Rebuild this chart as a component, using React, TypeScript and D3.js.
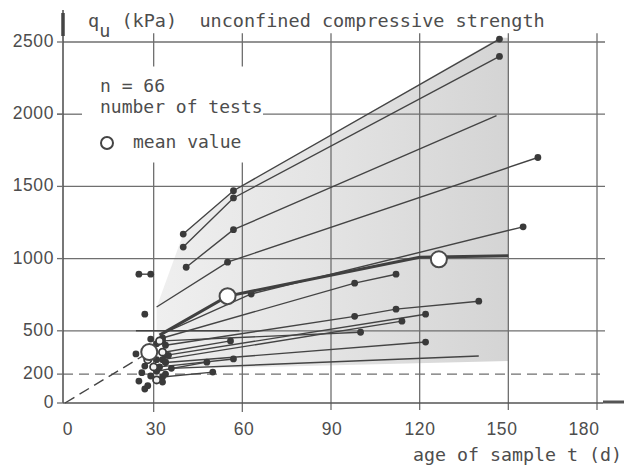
import React from "react";
import * as d3 from "d3";

const W = 626, H = 474;

const yTicks = [0, 200, 500, 1000, 1500, 2000, 2500];
const xTicks = [0, 30, 60, 90, 120, 150, 180];

// polylines [t (d), qu (kPa), dot?]
const upperSeries = [
  [[40, 1170, 1], [57, 1470, 1], [147, 2520, 1]],
  [[40, 1080, 1], [57, 1420, 1], [147, 2400, 1]],
  [[41, 940, 1], [57, 1200, 1], [146, 1990, 0]],
  [[31, 665, 0], [55, 975, 1], [160, 1700, 1]],
  [[33, 480, 0], [63, 755, 1], [155, 1220, 1]],
];

const lowerSeries = [
  [[33, 450, 1], [98, 830, 1], [112, 892, 1]],
  [[34, 400, 1], [98, 600, 1], [112, 650, 1], [140, 705, 1]],
  [[34, 330, 1], [122, 615, 1]],
  [[33, 300, 1], [114, 567, 1]],
  [[33, 430, 1], [100, 490, 1]],
  [[34, 280, 1], [122, 422, 1]],
  [[36, 240, 1], [140, 325, 0]],
  [[33, 350, 1], [56, 430, 1]],
  [[31, 220, 1], [48, 283, 1]],
  [[32, 250, 1], [57, 305, 1]],
  [[33, 180, 1], [50, 214, 1]],
  [[25, 892, 1], [29, 892, 1]],
  [[24, 500, 0], [59, 500, 0]],
];

const clusterDots = [
  [24, 340], [34, 283], [27, 256], [25, 152], [27, 97], [33, 145], [29, 187],
  [29, 443], [27, 615], [31, 300], [26, 210], [35, 330], [31, 410], [34, 200], [28, 120],
];
const clusterRings = [[33, 352], [30, 250], [28, 300], [31, 160], [32, 430]];

const meanLine = [[32, 470], [55, 740], [120, 1010], [150, 1020]];
const meanPoints = [[28.5, 353], [55, 740], [126.5, 995]];

const envelope = [
  [31, 500], [31, 665], [40, 1170], [57, 1470], [147, 2530], [150, 2530],
  [150, 290], [60, 245], [36, 240],
];

const trend = [[0, 0], [28.5, 353]];

const GRID = "#6f6f6f", INK = "#444", TXT = "#4d4d4d";
const MONO = "'DejaVu Sans Mono', monospace";
const SANS = "'Liberation Sans', Arial, sans-serif";

export default function App() {
  const x = d3.scaleLinear().domain([0, 180]).range([65, 597]);
  const y = d3.scaleLinear().domain([0, 2500]).range([403, 42]);
  const xl = d3.scaleLinear().domain([0, 120, 180]).range([68, 420, 584]);
  const line = d3.line<number[]>().x(d => x(d[0])).y(d => y(d[1]));
  const all = [...upperSeries, ...lowerSeries];
  const x0 = x(0) - 2, xr = 605;

  return (
    <div style={{ position: "fixed", left: 0, top: 0 }}>
      <svg width={W} height={H} style={{ display: "block", background: "#fff" }}>
        <defs>
          <linearGradient id="shade" x1="0" x2="1" y1="0" y2="0">
            <stop offset="0" stopColor="#efefef" />
            <stop offset="0.5" stopColor="#e3e3e3" />
            <stop offset="1" stopColor="#d4d4d4" />
          </linearGradient>
        </defs>
        <path d={line(envelope) + "Z"} fill="url(#shade)" />

        {/* horizontal grid */}
        {[500, 1000, 1500, 2500].map(v => (
          <line key={v} x1={x0} x2={xr} y1={y(v)} y2={y(v)} stroke={GRID} strokeWidth={1.3} />
        ))}
        <line x1={x(67)} x2={xr} y1={y(2000)} y2={y(2000)} stroke={GRID} strokeWidth={1.3} />
        <line x1={57} x2={82} y1={y(2000)} y2={y(2000)} stroke={GRID} strokeWidth={1.3} />
        <line x1={x0} x2={600} y1={y(200)} y2={y(200)} stroke={GRID} strokeWidth={1.2} strokeDasharray="10 6" />

        {/* vertical grid */}
        {[90, 120, 150, 180].map(t => (
          <line key={t} x1={x(t)} x2={x(t)} y1={y(2560)} y2={410} stroke={GRID} strokeWidth={1.3} />
        ))}
        {[30, 60].map(t => (
          <g key={t}>
            <line x1={x(t)} x2={x(t)} y1={y(2560)} y2={y(2330)} stroke={GRID} strokeWidth={1.3} />
            <line x1={x(t)} x2={x(t)} y1={y(1665)} y2={412} stroke={GRID} strokeWidth={1.3} />
          </g>
        ))}

        {/* axes */}
        <line x1={x0} x2={x0} y1={10} y2={y(0)} stroke="#555" strokeWidth={1.6} />
        <line x1={x0} x2={x0} y1={13} y2={36} stroke="#444" strokeWidth={3.5} />
        <line x1={x0} x2={603} y1={y(0)} y2={y(0)} stroke="#555" strokeWidth={1.5} />
        <line x1={603} x2={624} y1={y(0) - 1} y2={y(0) - 1} stroke="#555" strokeWidth={3} />
        {yTicks.map(v => (
          <line key={v} x1={57} x2={x0} y1={y(v)} y2={y(v)} stroke={GRID} strokeWidth={1.3} />
        ))}

        {/* trend to first mean */}
        <path d={line(trend) ?? ""} fill="none" stroke={INK} strokeWidth={1.4} strokeDasharray="11 6" />

        {/* individual tests */}
        {all.map((s, i) => (
          <path key={i} d={line(s) ?? ""} fill="none" stroke={INK} strokeWidth={1.4} />
        ))}
        {all.flatMap((s, i) => s.filter(p => p[2]).map((p, j) => (
          <circle key={i + "-" + j} cx={x(p[0])} cy={y(p[1])} r={3.4} fill="#3a3a3a" />
        )))}
        {clusterDots.map((p, i) => (
          <circle key={i} cx={x(p[0])} cy={y(p[1])} r={3.4} fill="#3a3a3a" />
        ))}
        {clusterRings.map((p, i) => (
          <circle key={i} cx={x(p[0])} cy={y(p[1])} r={3.6} fill="#f2f2f2" stroke="#3a3a3a" strokeWidth={1.8} />
        ))}

        {/* mean */}
        <path d={line(meanLine) ?? ""} fill="none" stroke="#404040" strokeWidth={3} />
        {meanPoints.map((p, i) => (
          <circle key={i} cx={x(p[0])} cy={y(p[1])} r={8} fill="#fff" stroke="#4a4a4a" strokeWidth={2} />
        ))}

        {/* tick labels */}
        {yTicks.map(v => (
          <text key={v} x={54} y={y(v) + 5} textAnchor="end" fontFamily={SANS} fontSize={17.5}
            letterSpacing={0.6} fill={TXT}>{v}</text>
        ))}
        {xTicks.map(t => (
          <text key={t} x={xl(t)} y={435} textAnchor="middle" fontFamily={SANS} fontSize={17.5}
            letterSpacing={0.6} fill={TXT}>{t}</text>
        ))}

        {/* titles */}
        <text x={88} y={27} fontFamily={MONO} fontSize={18.5} fill={TXT} xmlSpace="preserve">
          q<tspan dy={10}>u</tspan><tspan dy={-10}>{" (kPa)  unconfined compressive strength"}</tspan>
        </text>
        <text x={100} y={92} fontFamily={MONO} fontSize={18} fill={TXT} xmlSpace="preserve">n = 66</text>
        <text x={100} y={113} fontFamily={MONO} fontSize={18} fill={TXT}>number of tests</text>
        <circle cx={107} cy={143} r={6} fill="#fff" stroke="#444" strokeWidth={2} />
        <text x={133} y={148} fontFamily={MONO} fontSize={18} fill={TXT} xmlSpace="preserve">mean value</text>
        <text x={413} y={461} fontFamily={MONO} fontSize={18.3} fill={TXT} xmlSpace="preserve">age of sample t (d)</text>
      </svg>
    </div>
  );
}
